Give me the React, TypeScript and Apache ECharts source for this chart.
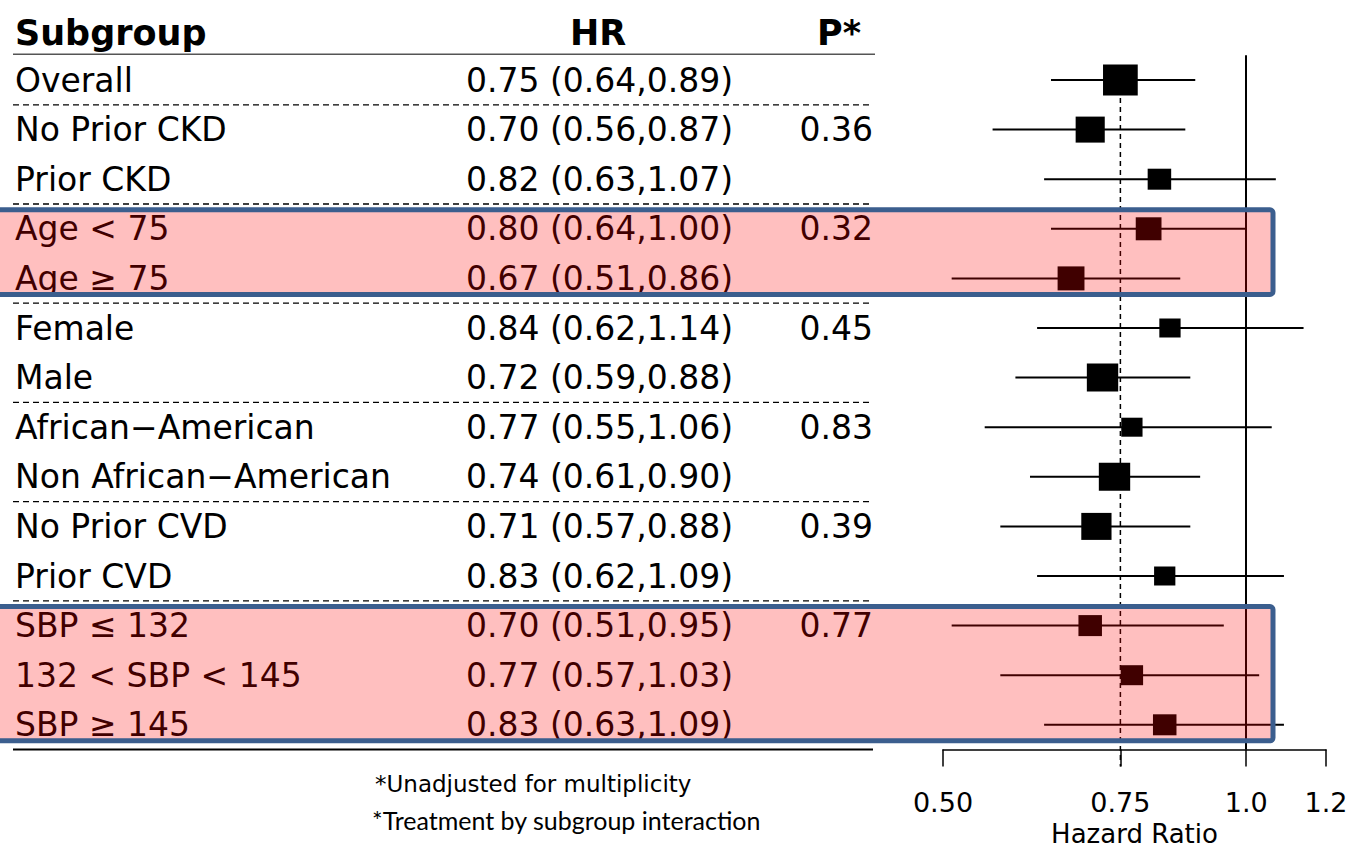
import React, { useEffect, useRef } from "react";
import * as echarts from "echarts";

// ---------- data ----------
const subgroups = [
  "Overall",
  "No Prior CKD",
  "Prior CKD",
  "Age < 75",
  "Age \u2265 75",
  "Female",
  "Male",
  "African\u2212American",
  "Non African\u2212American",
  "No Prior CVD",
  "Prior CVD",
  "SBP \u2264 132",
  "132 < SBP < 145",
  "SBP \u2265 145",
];
const hazardRatios = [0.75, 0.7, 0.82, 0.8, 0.67, 0.84, 0.72, 0.77, 0.74, 0.71, 0.83, 0.7, 0.77, 0.83];
const lowerCI = [0.64, 0.56, 0.63, 0.64, 0.51, 0.62, 0.59, 0.55, 0.61, 0.57, 0.62, 0.51, 0.57, 0.63];
const upperCI = [0.89, 0.87, 1.07, 1.0, 0.86, 1.14, 0.88, 1.06, 0.9, 0.88, 1.09, 0.95, 1.03, 1.09];
const pValues = ["", "0.36", "", "0.32", "", "0.45", "", "0.83", "", "0.39", "", "0.77", "", ""];
// relative weight of each subgroup (box height in px)
const boxWeights = [31, 26, 21, 23, 24, 19, 28, 19, 28, 27, 19, 21, 20, 21];
// rows after which a dashed separator is drawn
const groupEnds = [0, 2, 4, 6, 8, 10];
// highlighted subgroup blocks (first row, last row)
const highlightBlocks = [
  [3, 4],
  [11, 13],
];
const tickValues = [0.5, 0.75, 1.0, 1.2];
const tickLabels = ["0.50", "0.75", "1.0", "1.2"];
const headers = ["Subgroup", "HR", "P*"];
const footnotes = ["*Unadjusted for multiplicity", "*Treatment by subgroup interaction"];

// ---------- layout ----------
const W = 1349;
const H = 848;
const GRID_LEFT = 943;
const GRID_RIGHT = 23;
const GRID_TOP = 55.2;
const GRID_BOTTOM = 98.4;
const FONT = "DejaVu Sans";

export default function App() {
  const ref = useRef<HTMLDivElement>(null);

  useEffect(() => {
    document.body.style.margin = "0";
    if (!ref.current) return;
    const chart = echarts.init(ref.current, undefined, { renderer: "svg" });

    const n = subgroups.length;
    const band = (H - GRID_TOP - GRID_BOTTOM) / n;
    const rowCenter = (i: number) => GRID_TOP + band * (i + 0.5);

    const hrText = hazardRatios.map(
      (v, i) => `${v.toFixed(2)} (${lowerCI[i].toFixed(2)},${upperCI[i].toFixed(2)})`
    );

    const ciData = hazardRatios.map((v, i) => [
      Math.log(v),
      i,
      Math.log(lowerCI[i]),
      Math.log(upperCI[i]),
      boxWeights[i],
    ]);

    const graphics: any[] = [];
    // header
    graphics.push({
      type: "text",
      x: 15,
      y: 33,
      style: {
        text: headers[0],
        font: `bold 35px '${FONT}'`,
        fill: "#000",
        verticalAlign: "middle",
      },
    });
    graphics.push({
      type: "text",
      x: 598,
      y: 33,
      style: {
        text: headers[1],
        font: `bold 35px '${FONT}'`,
        fill: "#000",
        align: "center",
        verticalAlign: "middle",
      },
    });
    graphics.push({
      type: "text",
      x: 839,
      y: 33,
      style: {
        text: headers[2],
        font: `bold 35px '${FONT}'`,
        fill: "#000",
        align: "center",
        verticalAlign: "middle",
      },
    });
    graphics.push({
      type: "line",
      shape: { x1: 13, y1: GRID_TOP - 1, x2: 875, y2: GRID_TOP - 1 },
      style: { stroke: "#555", lineWidth: 1.5 },
    });
    groupEnds.forEach((k) => {
      const y = GRID_TOP + band * (k + 1);
      graphics.push({
        type: "line",
        shape: { x1: 13, y1: y, x2: 873, y2: y },
        style: { stroke: "#000", lineWidth: 1.3, lineDash: [6, 4] },
      });
    });
    graphics.push({
      type: "line",
      shape: { x1: 13, y1: H - GRID_BOTTOM, x2: 873, y2: H - GRID_BOTTOM },
      style: { stroke: "#000", lineWidth: 2 },
    });
    // footnotes
    graphics.push({
      type: "text",
      x: 375,
      y: 784,
      style: {
        text: footnotes[0],
        font: `23px '${FONT}'`,
        fill: "#000",
        verticalAlign: "middle",
      },
    });
    graphics.push({
      type: "text",
      x: 372,
      y: 820,
      style: {
        text: footnotes[1],
        font: "25px Lato",
        fill: "#000",
        verticalAlign: "middle",
      },
    });
    // highlight blocks (semi-transparent overlay)
    highlightBlocks.forEach(([a, b]) => {
      const top = rowCenter(a) - 19;
      const bottom = rowCenter(b) + 16;
      graphics.push({
        type: "rect",
        z: 100,
        shape: { x: -10, y: top, width: 1283, height: bottom - top, r: 3 },
        style: {
          fill: "rgba(255,0,0,0.25)",
          stroke: "#3b5e8e",
          lineWidth: 5,
        },
      });
    });

    const option: any = {
      animation: false,
      backgroundColor: "#fff",
      grid: {
        left: GRID_LEFT,
        right: GRID_RIGHT,
        top: GRID_TOP,
        bottom: GRID_BOTTOM,
        containLabel: false,
        outerBoundsMode: "none",
      },
      xAxis: {
        type: "value",
        min: Math.log(tickValues[0]),
        max: Math.log(tickValues[tickValues.length - 1]),
        splitLine: { show: false },
        axisLine: { show: true, lineStyle: { color: "#000", width: 1.5 } },
        axisTick: {
          show: true,
          length: 17,
          customValues: tickValues.map((v) => Math.log(v)),
          lineStyle: { color: "#000", width: 1.5 },
        },
        axisLabel: {
          customValues: tickValues.map((v) => Math.log(v)),
          formatter: (v: number) => {
            let best = 0;
            tickValues.forEach((t, i) => {
              if (Math.abs(Math.log(t) - v) < Math.abs(Math.log(tickValues[best]) - v)) best = i;
            });
            return tickLabels[best];
          },
          margin: 39,
          fontFamily: FONT,
          fontSize: 27,
          color: "#000",
        },
        name: "Hazard Ratio",
        nameLocation: "middle",
        nameGap: 69,
        nameTextStyle: { fontFamily: FONT, fontSize: 26, color: "#000" },
      },
      yAxis: {
        type: "category",
        inverse: true,
        data: subgroups,
        axisLine: { show: false },
        axisTick: { show: false },
        splitLine: { show: false },
        axisLabel: {
          interval: 0,
          align: "left",
          margin: GRID_LEFT - 15,
          formatter: (value: string, idx: number) =>
            `{s|${value}}{h|${hrText[idx]}}{p|${pValues[idx] || " "}}`,
          rich: {
            s: { width: 451, align: "left", fontFamily: FONT, fontSize: 33, color: "#000" },
            h: { width: 334, align: "left", fontFamily: FONT, fontSize: 33, color: "#000" },
            p: { width: 73, align: "right", fontFamily: FONT, fontSize: 33, color: "#000" },
          },
        },
      },
      graphic: graphics,
      series: [
        {
          type: "custom",
          name: "reference",
          data: [[Math.log(hazardRatios[0]), 0]],
          encode: { x: 0, y: 1 },
          renderItem: (params: any, api: any) => {
            const p = api.coord([api.value(0), api.value(1)]);
            const cs = params.coordSys;
            return {
              type: "line",
              shape: { x1: p[0], y1: p[1], x2: p[0], y2: cs.y + cs.height + 17 },
              style: { stroke: "#000", lineWidth: 1.5, lineDash: [5, 4] },
            };
          },
          markLine: {
            silent: true,
            symbol: "none",
            label: { show: false },
            lineStyle: { color: "#000", width: 2, type: "solid" },
            data: [{ xAxis: 0 }],
          },
        },
        {
          type: "custom",
          name: "HR",
          data: ciData,
          encode: { x: 0, y: 1 },
          renderItem: (params: any, api: any) => {
            const row = api.value(1);
            const c = api.coord([api.value(0), row]);
            const lo = api.coord([api.value(2), row]);
            const hi = api.coord([api.value(3), row]);
            const h = api.value(4);
            const w = h * 1.12;
            return {
              type: "group",
              children: [
                {
                  type: "line",
                  shape: { x1: lo[0], y1: c[1], x2: hi[0], y2: c[1] },
                  style: { stroke: "#000", lineWidth: 2 },
                },
                {
                  type: "rect",
                  shape: { x: c[0] - w / 2, y: c[1] - h / 2, width: w, height: h },
                  style: { fill: "#000" },
                },
              ],
            };
          },
        },
      ],
    };

    chart.setOption(option);
    return () => chart.dispose();
  }, []);

  return <div ref={ref} style={{ width: W, height: H }} />;
}
